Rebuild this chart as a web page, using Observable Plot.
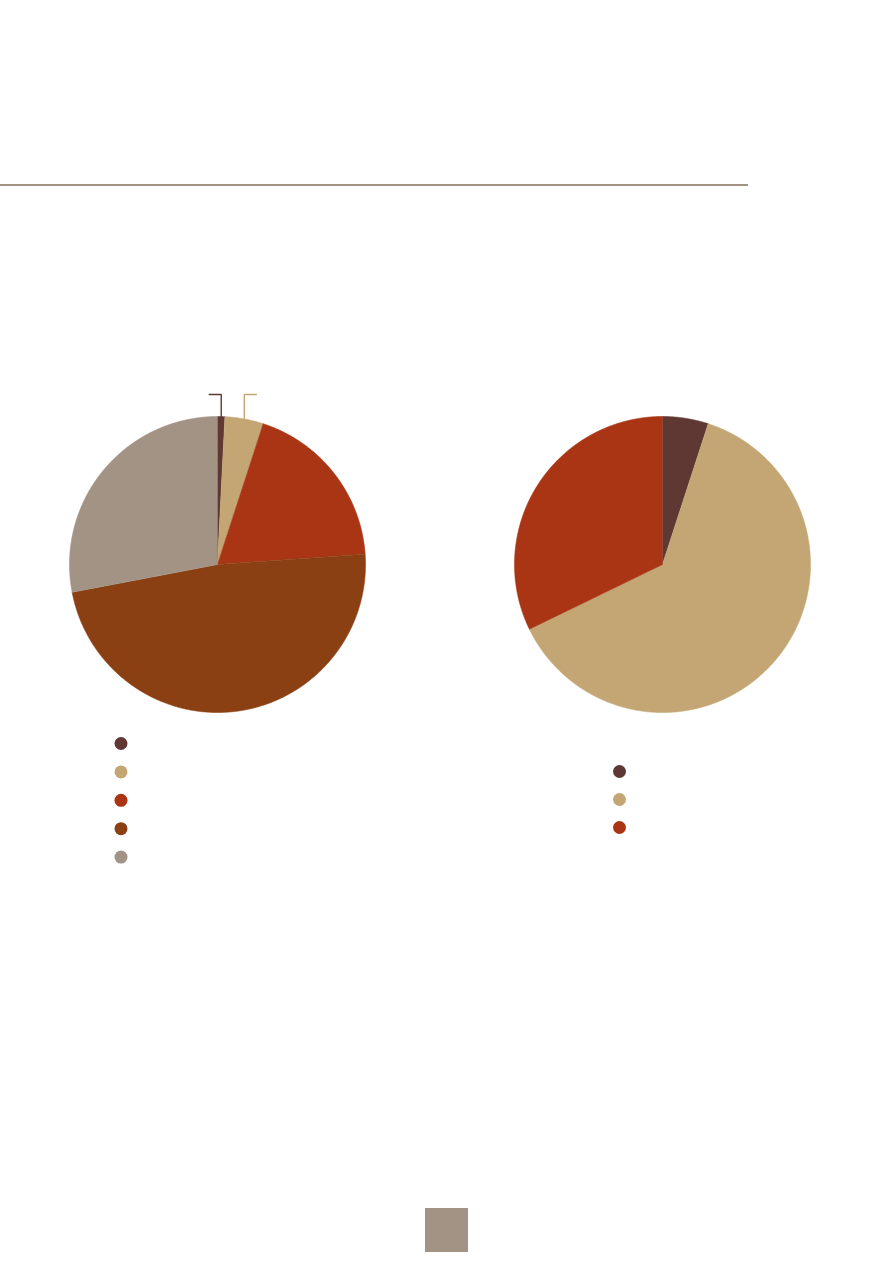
<!DOCTYPE html>
<html>
<head>
<meta charset="utf-8">
<script src="https://cdn.jsdelivr.net/npm/d3@7"></script>
<script src="https://cdn.jsdelivr.net/npm/@observablehq/plot@0.6"></script>
<style>
  html, body { margin: 0; padding: 0; background: #ffffff; }
  #chart svg { display: block; }
</style>
</head>
<body>
<div id="chart"></div>
<script>
// ---- data ----
const leftCategories = ["s1", "s2", "s3", "s4", "s5"];
const leftValues = [0.8, 4.2, 18.9, 48.1, 28.0];
const leftColors = ["#5f3833", "#c4a675", "#a93514", "#8a4012", "#a39385"];

const rightCategories = ["s1", "s2", "s3"];
const rightValues = [5.0, 62.8, 32.2];
const rightColors = ["#5f3833", "#c4a675", "#a93514"];

// leader lines drawn for the first two left-pie slices (label text absent)
const leaderSlices = [0, 1];
const leaderDirections = [-1, 1];

// ---- layout ----
const W = 893, H = 1263;
const R = 148;
const leftCenter = [217, 564];
const rightCenter = [662, 564];

function slices(values, colors, cx, cy, r) {
  const total = d3.sum(values);
  let a0 = 0;
  return values.map((v, i) => {
    const a1 = a0 + (v / total) * 2 * Math.PI;
    const n = Math.max(2, Math.ceil((a1 - a0) / 0.005));
    const pts = [{x: cx, y: cy}];
    for (let k = 0; k <= n; k++) {
      const a = a0 + (a1 - a0) * k / n;
      pts.push({x: cx + r * Math.sin(a), y: cy - r * Math.cos(a)});
    }
    const s = {pts, color: colors[i], a0, a1};
    a0 = a1;
    return s;
  });
}

const leftSlices = slices(leftValues, leftColors, ...leftCenter, R);
const rightSlices = slices(rightValues, rightColors, ...rightCenter, R);

const sliceMarks = [...leftSlices, ...rightSlices].map(s =>
  Plot.line(s.pts, {x: "x", y: "y", fill: s.color, stroke: s.color, strokeWidth: 0.6, curve: "linear"})
);

const leaderMarks = leaderSlices.map((idx, j) => {
  const s = leftSlices[idx];
  const am = (s.a0 + s.a1) / 2;
  const ex = leftCenter[0] + R * Math.sin(am);
  const ey = leftCenter[1] - R * Math.cos(am);
  const ty = 394;
  const pts = [{x: ex, y: ey}, {x: ex, y: ty}, {x: ex + leaderDirections[j] * 12, y: ty}];
  return Plot.line(pts, {x: "x", y: "y", stroke: s.color, strokeWidth: 1.4, curve: "linear"});
});

const leftLegend = leftColors.map((c, i) => ({x: 120.5, y: 743 + i * 28.4, c}));
const rightLegend = rightColors.map((c, i) => ({x: 619, y: 771 + i * 28, c}));

const chart = Plot.plot({
  width: W,
  height: H,
  margin: 0,
  x: {domain: [0, W], range: [0, W], axis: null},
  y: {domain: [0, H], range: [0, H], axis: null},
  color: {type: "identity"},
  marks: [
    Plot.ruleY([184.5], {x1: 0, x2: 748, stroke: "#a39385", strokeWidth: 2}),
    ...sliceMarks,
    ...leaderMarks,
    Plot.dot(leftLegend, {x: "x", y: "y", r: 6.5, fill: "c", stroke: null}),
    Plot.dot(rightLegend, {x: "x", y: "y", r: 6.5, fill: "c", stroke: null}),
    Plot.rect([{x1: 425, x2: 468, y1: 1208, y2: 1252}], {x1: "x1", x2: "x2", y1: "y1", y2: "y2", fill: "#a39385"})
  ]
});

document.getElementById("chart").appendChild(chart);
</script>
</body>
</html>
